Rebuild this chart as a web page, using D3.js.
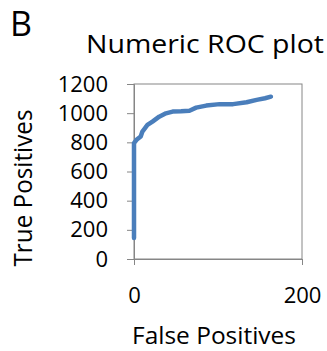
<!DOCTYPE html>
<html>
<head>
<meta charset="utf-8">
<script src="https://cdn.jsdelivr.net/npm/d3@7"></script>
<style>
body{margin:0;background:#fff;}
text{font-family:"Open Sans",sans-serif;fill:#000;}
</style>
</head>
<body>
<div class="chart"></div>
<script>
// ROC curve points
var falsePos=[0,0,0,3,8,10,16,22,30,38,46,56,66,74,86,102,118,134,146,156,163];
var truePos=[144,500,794,817,840,874,919,942,976,999,1011,1013,1017,1038,1052,1062,1062,1075,1091,1102,1113];
var yTicks=[0,200,400,600,800,1000,1200];
var xTicks=[0,200];

var margin={top:84, left:134, bottom:92, right:25};
var width=327-margin.left-margin.right;
var height=351-margin.top-margin.bottom;

var svg=d3.select(".chart").append("svg").attr("width",327).attr("height",351);
var g=svg.append("g").attr("transform","translate("+margin.left+","+margin.top+")");

var x=d3.scaleLinear().domain([0,200]).range([0,width]);
var y=d3.scaleLinear().domain([0,1200]).range([height,0]);

// frame
g.append("rect").attr("width",width).attr("height",height)
 .attr("fill","none").attr("stroke","#868686").attr("stroke-width",1);

var yAxis=g.append("g").call(d3.axisLeft(y).tickValues(yTicks).tickFormat(d3.format("d")).tickSize(7).tickPadding(19));
yAxis.select(".domain").attr("stroke","#868686");
yAxis.selectAll("line").attr("stroke","#868686");
yAxis.selectAll("text").attr("font-size","22px").attr("fill","#000").attr("font-family","'Open Sans',sans-serif");

var xAxis=g.append("g").attr("transform","translate(0,"+height+")")
 .call(d3.axisBottom(x).tickValues(xTicks).tickFormat(d3.format("d")).tickSize(6).tickPadding(22));
xAxis.select(".domain").attr("stroke","#868686");
xAxis.selectAll("line").attr("stroke","#868686");
xAxis.selectAll("text").attr("font-size","22px").attr("fill","#000").attr("font-family","'Open Sans',sans-serif");

var data=falsePos.map(function(d,i){return {x:d,y:truePos[i]};});
var line=d3.line().x(function(d){return x(d.x);}).y(function(d){return y(d.y);});
g.append("path").datum(data).attr("d",line)
 .attr("fill","none").attr("stroke","#4a7ebb").attr("stroke-width",4.5)
 .attr("stroke-linejoin","round").attr("stroke-linecap","round");

svg.append("text").attr("x",10).attr("y",36).attr("font-size","34px").text("B");
svg.append("text").attr("x",205).attr("y",53).attr("font-size","25px")
 .attr("text-anchor","middle").attr("textLength",238).attr("lengthAdjust","spacingAndGlyphs")
 .text("Numeric ROC plot");
svg.append("text").attr("x",214).attr("y",344).attr("font-size","24px")
 .attr("text-anchor","middle").attr("textLength",164).attr("lengthAdjust","spacingAndGlyphs")
 .text("False Positives");
svg.append("text").attr("transform","translate(32,188) rotate(-90)").attr("font-size","26px")
 .attr("text-anchor","middle").attr("textLength",157).attr("lengthAdjust","spacingAndGlyphs")
 .text("True Positives");
</script>
</body>
</html>
